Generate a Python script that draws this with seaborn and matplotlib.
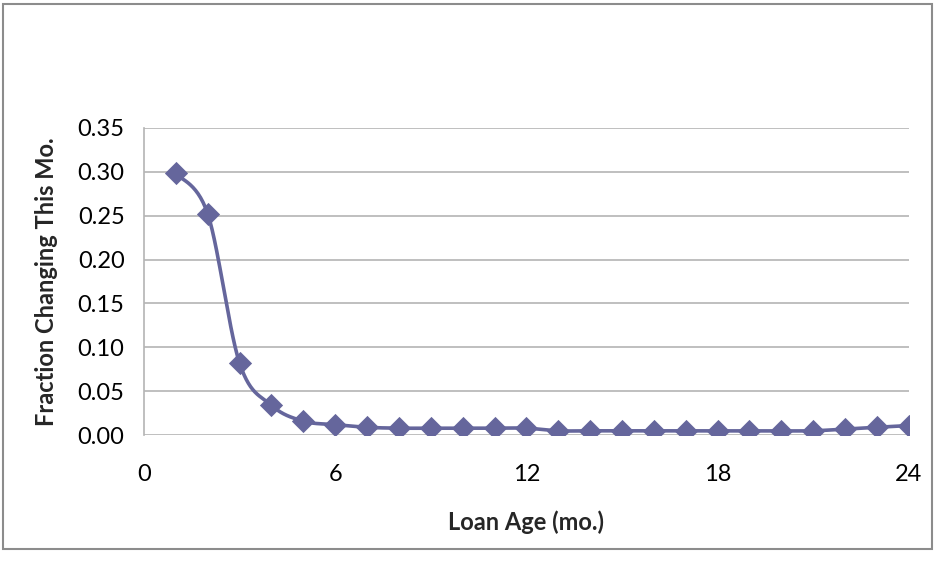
import numpy as np
import pandas as pd
import matplotlib
matplotlib.use("Agg")
import matplotlib.pyplot as plt
import seaborn as sns
from matplotlib.patches import Rectangle

# loan age (months) and fraction changing in that month
loan_age = list(range(1, 25))
fraction = [0.298, 0.252, 0.082, 0.034, 0.016, 0.012, 0.009, 0.008,
            0.008, 0.008, 0.008, 0.008, 0.005, 0.005, 0.005, 0.005,
            0.005, 0.005, 0.005, 0.005, 0.005, 0.007, 0.009, 0.011]

x_ticks = [0, 6, 12, 18, 24]
y_ticks = [0.00, 0.05, 0.10, 0.15, 0.20, 0.25, 0.30, 0.35]

LINE_COLOR = "#65669C"
GRID_COLOR = "#b4b4b4"


def smooth_curve(xs, ys, steps=30):
    # Excel-style smoothed line: Catmull-Rom segments as cubic Bezier
    xs = np.asarray(xs, dtype=float)
    ys = np.asarray(ys, dtype=float)
    pts = np.column_stack([xs, ys])
    out = []
    t = np.linspace(0, 1, steps)[:, None]
    for i in range(len(pts) - 1):
        p0 = pts[max(i - 1, 0)]
        p1 = pts[i]
        p2 = pts[i + 1]
        p3 = pts[min(i + 2, len(pts) - 1)]
        c1 = p1 + (p2 - p0) / 6
        c2 = p2 - (p3 - p1) / 6
        seg = ((1 - t) ** 3) * p1 + 3 * ((1 - t) ** 2) * t * c1 \
            + 3 * (1 - t) * t ** 2 * c2 + t ** 3 * p2
        out.append(seg if i == 0 else seg[1:])
    curve = np.vstack(out)
    return pd.DataFrame({"x": curve[:, 0], "y": curve[:, 1]})


sns.set_style("white")
plt.rcParams["font.family"] = ["Lato", "DejaVu Sans"]

df = pd.DataFrame({"age": loan_age, "frac": fraction})
curve = smooth_curve(loan_age, fraction)

fig = plt.figure(figsize=(9.35, 5.63), dpi=100)
ax = fig.add_axes([0.154, 0.227, 0.818, 0.546])

for yv in y_ticks:
    ax.axhline(yv, color=GRID_COLOR, lw=1.2, zorder=0)

sns.lineplot(data=curve, x="x", y="y", ax=ax, color=LINE_COLOR, lw=2.6,
             sort=False, estimator=None, zorder=2)
sns.scatterplot(data=df, x="age", y="frac", ax=ax, color=LINE_COLOR,
                marker="D", s=140, edgecolor=LINE_COLOR, linewidth=0, zorder=3)

ax.set_xlim(0, 24)
ax.set_ylim(0, 0.35)
ax.set_xticks(x_ticks)
ax.set_yticks(y_ticks)
ax.set_yticklabels([f"{v:.2f}" for v in y_ticks])
ax.tick_params(axis="both", labelsize=17, colors="black", length=5,
               width=1.2, direction="out", color=GRID_COLOR)
ax.tick_params(axis="x", pad=16)
ax.tick_params(axis="y", pad=9)

for side in ["top", "right"]:
    ax.spines[side].set_visible(False)
for side in ["left", "bottom"]:
    ax.spines[side].set_color(GRID_COLOR)
    ax.spines[side].set_linewidth(1.2)
ax.spines["bottom"].set_visible(False)

ax.set_xlabel("Loan Age (mo.)", fontsize=17, fontweight="bold")
ax.set_ylabel("Fraction Changing This Mo.", fontsize=17, fontweight="bold")
ax.xaxis.set_label_coords(0.5, -0.245)
ax.yaxis.set_label_coords(-0.112, 0.5)

# chart border like the Excel chart area
fig.patches.append(Rectangle((3 / 935, 1 - 549 / 563), 929 / 935, 545 / 563,
                             transform=fig.transFigure, fill=False,
                             edgecolor="#8c8c8c", lw=1.5))

fig.savefig("out.png", dpi=100)
